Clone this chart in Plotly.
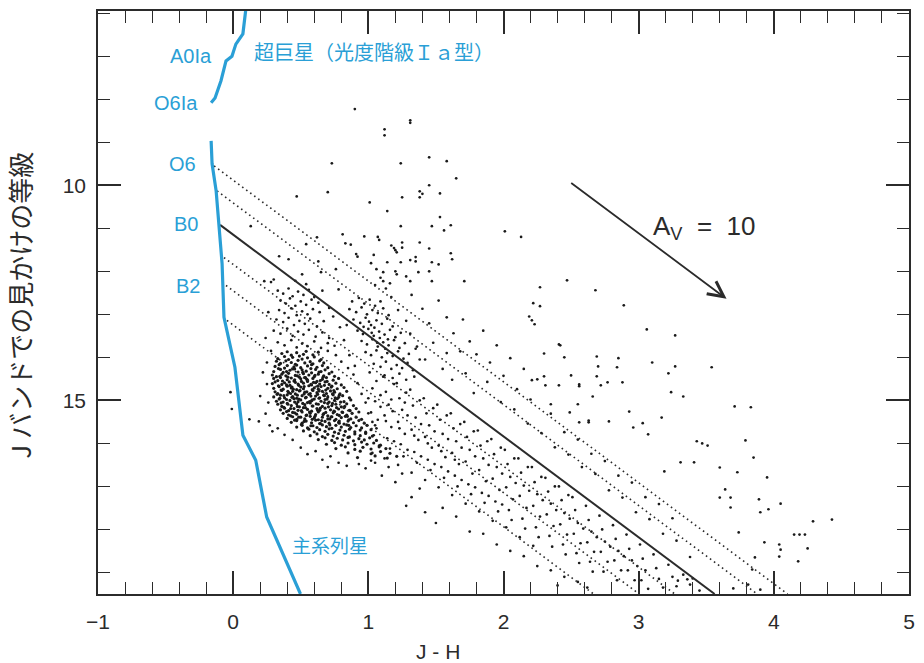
import plotly.graph_objects as go

# ---------------------------------------------------------------- tracks
# main-sequence track (J-H, J)
ms_jh = [-0.163, -0.156, -0.126, -0.104, -0.082, -0.068, -0.016, 0.013, 0.072, 0.167, 0.248, 0.498]
ms_j = [8.97, 9.50, 10.13, 10.98, 11.82, 13.07, 13.84, 14.23, 15.81, 16.39, 17.71, 19.50]

# supergiant (luminosity class Ia) track
sg_jh = [0.094, 0.072, 0.020, -0.009, -0.053, -0.090, -0.134, -0.163]
sg_j = [5.90, 6.48, 6.72, 7.00, 7.11, 7.57, 7.97, 8.08]

# spectral types marked along the tracks
sp_types = ["A0Ia", "O6Ia", "O6", "B0", "B2"]
sp_j = [6.99, 8.08, 9.50, 10.91, 12.33]

# reddening lines start on the main sequence
red_type = ["O6", "", "B0", "", "B2", ""]
red_start_jh = [-0.141, -0.119, -0.097, -0.068, -0.053, -0.046]
red_start_j = [9.55, 10.13, 10.92, 11.68, 12.33, 13.14]

# extinction vector for A_V = 10
av_value = 10
av_start = [2.49, 9.92]
av_delta = [1.16, 2.72]

# axis extents and tick spacing
JH_MIN, JH_MAX = -1, 5
J_BRIGHT, J_FAINT = 5.95, 19.5
jh_major, jh_minor = 1, 0.2
j_major, j_minor = 5, 1

# ---------------------------------------------------------------- stars (J-H, J)
main_clump = [
    (0.36, 13.91), (0.40, 13.87), (0.43, 13.95), (0.47, 13.89), (0.52, 13.93), (0.54, 13.86), (0.59, 13.94), (0.63, 13.88),
    (0.33, 14.03), (0.38, 13.98), (0.41, 14.05), (0.44, 14.00), (0.49, 13.97), (0.51, 14.04), (0.55, 14.01), (0.60, 13.99), (0.65, 14.05),
    (0.32, 14.09), (0.35, 14.14), (0.39, 14.08), (0.43, 14.12), (0.46, 14.16), (0.48, 14.07), (0.53, 14.13), (0.57, 14.10), (0.59, 14.15), (0.64, 14.08), (0.67, 14.13),
    (0.31, 14.21), (0.34, 14.17), (0.38, 14.25), (0.40, 14.19), (0.45, 14.22), (0.47, 14.18), (0.50, 14.24), (0.55, 14.20), (0.58, 14.17), (0.62, 14.23), (0.66, 14.19), (0.70, 14.24),
    (0.30, 14.33), (0.35, 14.28), (0.37, 14.35), (0.42, 14.30), (0.44, 14.27), (0.48, 14.34), (0.51, 14.29), (0.54, 14.32), (0.58, 14.36), (0.61, 14.28), (0.65, 14.33), (0.68, 14.29), (0.73, 14.34),
    (0.29, 14.41), (0.32, 14.45), (0.36, 14.39), (0.39, 14.43), (0.41, 14.37), (0.46, 14.42), (0.49, 14.46), (0.52, 14.38), (0.56, 14.41), (0.60, 14.45), (0.63, 14.39), (0.67, 14.43), (0.71, 14.38), (0.75, 14.44),
    (0.30, 14.49), (0.33, 14.54), (0.35, 14.47), (0.40, 14.52), (0.43, 14.48), (0.45, 14.55), (0.50, 14.50), (0.53, 14.47), (0.55, 14.53), (0.59, 14.49), (0.62, 14.56), (0.66, 14.51), (0.69, 14.47), (0.74, 14.53), (0.78, 14.49),
    (0.29, 14.61), (0.31, 14.57), (0.36, 14.63), (0.38, 14.59), (0.42, 14.65), (0.46, 14.58), (0.48, 14.62), (0.52, 14.60), (0.55, 14.56), (0.58, 14.64), (0.61, 14.59), (0.64, 14.62), (0.68, 14.57), (0.71, 14.63), (0.76, 14.60), (0.80, 14.64),
    (0.30, 14.72), (0.34, 14.68), (0.37, 14.74), (0.40, 14.67), (0.43, 14.71), (0.47, 14.75), (0.50, 14.69), (0.52, 14.73), (0.56, 14.66), (0.60, 14.71), (0.63, 14.74), (0.65, 14.68), (0.70, 14.72), (0.73, 14.67), (0.77, 14.73), (0.82, 14.70),
    (0.31, 14.80), (0.33, 14.84), (0.36, 14.77), (0.41, 14.82), (0.44, 14.79), (0.46, 14.85), (0.49, 14.78), (0.53, 14.81), (0.57, 14.84), (0.59, 14.77), (0.62, 14.82), (0.66, 14.79), (0.69, 14.84), (0.72, 14.78), (0.75, 14.81), (0.79, 14.85), (0.84, 14.79),
    (0.30, 14.92), (0.35, 14.88), (0.38, 14.94), (0.40, 14.87), (0.44, 14.91), (0.47, 14.95), (0.51, 14.89), (0.54, 14.93), (0.56, 14.86), (0.61, 14.90), (0.64, 14.94), (0.67, 14.88), (0.70, 14.92), (0.74, 14.87), (0.78, 14.93), (0.81, 14.89), (0.86, 14.94),
    (0.32, 15.02), (0.34, 14.97), (0.37, 15.04), (0.42, 15.00), (0.45, 14.96), (0.48, 15.03), (0.50, 14.99), (0.55, 15.05), (0.58, 15.01), (0.60, 14.97), (0.65, 15.02), (0.68, 14.98), (0.71, 15.04), (0.75, 15.00), (0.77, 14.96), (0.82, 15.03), (0.87, 14.99),
    (0.33, 15.09), (0.36, 15.14), (0.40, 15.07), (0.43, 15.12), (0.47, 15.08), (0.49, 15.15), (0.53, 15.10), (0.57, 15.06), (0.59, 15.13), (0.63, 15.09), (0.66, 15.14), (0.70, 15.07), (0.73, 15.12), (0.76, 15.09), (0.80, 15.15), (0.84, 15.08), (0.89, 15.12),
    (0.35, 15.22), (0.38, 15.18), (0.41, 15.24), (0.45, 15.19), (0.48, 15.23), (0.52, 15.17), (0.55, 15.21), (0.58, 15.25), (0.62, 15.19), (0.64, 15.23), (0.68, 15.18), (0.72, 15.22), (0.75, 15.26), (0.78, 15.20), (0.82, 15.17), (0.86, 15.23), (0.91, 15.19),
    (0.37, 15.30), (0.41, 15.34), (0.44, 15.28), (0.47, 15.32), (0.51, 15.27), (0.54, 15.35), (0.57, 15.30), (0.61, 15.33), (0.63, 15.27), (0.67, 15.31), (0.70, 15.36), (0.74, 15.29), (0.77, 15.33), (0.81, 15.28), (0.84, 15.34), (0.88, 15.30), (0.93, 15.27),
    (0.40, 15.42), (0.44, 15.38), (0.47, 15.44), (0.50, 15.39), (0.53, 15.43), (0.57, 15.37), (0.60, 15.41), (0.63, 15.45), (0.66, 15.39), (0.70, 15.43), (0.73, 15.38), (0.76, 15.44), (0.80, 15.40), (0.83, 15.37), (0.87, 15.43), (0.91, 15.39), (0.95, 15.44),
    (0.43, 15.51), (0.47, 15.47), (0.51, 15.53), (0.54, 15.48), (0.58, 15.52), (0.61, 15.46), (0.64, 15.54), (0.68, 15.49), (0.71, 15.53), (0.75, 15.47), (0.78, 15.51), (0.82, 15.55), (0.85, 15.48), (0.89, 15.52), (0.93, 15.47), (0.97, 15.53),
    (0.47, 15.62), (0.51, 15.58), (0.55, 15.64), (0.59, 15.59), (0.62, 15.63), (0.66, 15.57), (0.69, 15.61), (0.73, 15.65), (0.76, 15.58), (0.80, 15.62), (0.84, 15.57), (0.87, 15.63), (0.91, 15.59), (0.95, 15.64), (0.99, 15.58),
    (0.52, 15.71), (0.56, 15.67), (0.60, 15.73), (0.64, 15.68), (0.68, 15.72), (0.71, 15.66), (0.75, 15.74), (0.79, 15.69), (0.83, 15.72), (0.86, 15.67), (0.90, 15.73), (0.94, 15.69), (0.98, 15.74), (1.02, 15.68),
    (0.57, 15.82), (0.62, 15.78), (0.66, 15.84), (0.70, 15.79), (0.74, 15.83), (0.78, 15.77), (0.82, 15.81), (0.86, 15.85), (0.90, 15.78), (0.94, 15.82), (0.98, 15.77), (1.03, 15.83),
    (0.63, 15.91), (0.68, 15.87), (0.73, 15.93), (0.77, 15.88), (0.81, 15.92), (0.85, 15.86), (0.89, 15.94), (0.93, 15.89), (0.97, 15.92), (1.01, 15.87), (1.06, 15.93),
    (0.69, 16.02), (0.75, 15.98), (0.80, 16.04), (0.85, 15.99), (0.90, 16.03), (0.95, 15.97), (0.99, 16.02), (1.04, 15.99), (1.09, 16.04),
    (0.76, 16.12), (0.83, 16.08), (0.90, 16.14), (0.96, 16.09), (1.02, 16.13), (1.08, 16.08), (1.13, 16.12),
    (0.85, 16.22), (0.94, 16.18), (1.02, 16.24), (1.09, 16.19), (1.16, 16.23),
    (0.92, 16.33), (1.05, 16.29), (1.14, 16.34), (1.21, 16.30),
]

# the crowded heart of the clump
clump_core = [
    (0.335, 14.26), (0.395, 14.33), (0.455, 14.27), (0.515, 14.35), (0.575, 14.26), (0.635, 14.34),
    (0.345, 14.44), (0.405, 14.46), (0.475, 14.43), (0.535, 14.47), (0.605, 14.42), (0.665, 14.46),
    (0.365, 14.55), (0.415, 14.57), (0.455, 14.52), (0.505, 14.56), (0.545, 14.51), (0.595, 14.58), (0.645, 14.54), (0.695, 14.56),
    (0.335, 14.66), (0.395, 14.64), (0.435, 14.69), (0.485, 14.65), (0.525, 14.68), (0.575, 14.63), (0.625, 14.67), (0.675, 14.65), (0.725, 14.69),
    (0.355, 14.76), (0.405, 14.79), (0.445, 14.74), (0.495, 14.77), (0.545, 14.80), (0.585, 14.75), (0.635, 14.78), (0.685, 14.76), (0.745, 14.77),
    (0.325, 14.86), (0.375, 14.89), (0.425, 14.84), (0.475, 14.88), (0.525, 14.85), (0.575, 14.90), (0.625, 14.86), (0.675, 14.89), (0.735, 14.85), (0.785, 14.88),
    (0.345, 14.95), (0.395, 14.98), (0.435, 14.93), (0.485, 14.97), (0.535, 14.94), (0.585, 14.99), (0.635, 14.95), (0.695, 14.97), (0.755, 14.94),
    (0.355, 15.06), (0.405, 15.09), (0.455, 15.04), (0.515, 15.07), (0.565, 15.03), (0.615, 15.08), (0.675, 15.05), (0.735, 15.07), (0.795, 15.04),
    (0.375, 15.16), (0.425, 15.19), (0.475, 15.14), (0.535, 15.17), (0.585, 15.13), (0.645, 15.18), (0.705, 15.15), (0.765, 15.17), (0.825, 15.14),
    (0.395, 15.26), (0.455, 15.29), (0.505, 15.24), (0.565, 15.27), (0.625, 15.23), (0.685, 15.28), (0.745, 15.25), (0.805, 15.27), (0.865, 15.24),
    (0.425, 15.36), (0.485, 15.39), (0.545, 15.34), (0.605, 15.37), (0.665, 15.33), (0.725, 15.38), (0.785, 15.35), (0.845, 15.37),
    (0.455, 15.46), (0.525, 15.49), (0.585, 15.44), (0.655, 15.47), (0.715, 15.43), (0.785, 15.48), (0.855, 15.45),
    (0.505, 15.56), (0.575, 15.59), (0.645, 15.54), (0.715, 15.57), (0.785, 15.53), (0.855, 15.58),
]

clump_halo = [
    (0.22, 14.35), (0.25, 14.62), (0.20, 14.90), (0.26, 15.05), (0.24, 15.31), (0.27, 15.58), (0.12, 15.44), (0.19, 15.49),
    (-0.02, 14.81), (-0.01, 15.20), (0.28, 13.85), (0.25, 14.12), (0.29, 15.72), (0.33, 15.65), (0.38, 15.80), (0.44, 15.92),
    (0.50, 16.10), (0.55, 16.25), (0.61, 16.18), (0.66, 16.38), (0.72, 16.30), (0.78, 16.45), (0.70, 16.55), (0.84, 16.52),
    (0.93, 16.48), (0.98, 16.58), (1.05, 16.45), (0.92, 14.60), (0.95, 14.85), (0.98, 15.05), (1.00, 15.30), (0.89, 14.40),
    (0.85, 14.25), (0.80, 14.10), (0.76, 13.95), (0.70, 13.85), (1.03, 15.50), (1.06, 15.65),
]

upper_left = [
    (0.33, 12.45), (0.37, 12.52), (0.41, 12.40), (0.44, 12.58), (0.48, 12.47), (0.52, 12.55), (0.56, 12.43), (0.60, 12.60),
    (0.35, 12.68), (0.39, 12.75), (0.42, 12.63), (0.46, 12.80), (0.50, 12.70), (0.54, 12.78), (0.58, 12.66), (0.63, 12.73),
    (0.34, 12.90), (0.38, 12.97), (0.43, 12.86), (0.47, 13.02), (0.51, 12.93), (0.55, 13.00), (0.59, 12.88), (0.64, 12.95),
    (0.32, 13.12), (0.37, 13.18), (0.41, 13.08), (0.45, 13.25), (0.49, 13.15), (0.53, 13.22), (0.57, 13.10), (0.62, 13.28),
    (0.67, 13.16), (0.30, 13.38), (0.35, 13.45), (0.40, 13.33), (0.44, 13.50), (0.48, 13.40), (0.52, 13.47), (0.56, 13.36),
    (0.61, 13.52), (0.66, 13.42), (0.71, 13.55), (0.33, 13.65), (0.38, 13.72), (0.43, 13.60), (0.47, 13.77), (0.51, 13.68),
    (0.55, 13.74), (0.60, 13.63), (0.65, 13.78), (0.70, 13.67), (0.75, 13.73), (0.28, 12.25), (0.46, 12.22), (0.54, 12.30),
    (0.66, 12.45), (0.71, 12.85), (0.74, 13.05), (0.79, 13.30), (0.26, 12.95), (0.24, 13.55),
]

upper_clump = [
    (0.88, 12.70), (0.93, 12.62), (0.97, 12.75), (1.01, 12.66), (1.05, 12.80), (1.09, 12.70), (0.86, 12.88), (0.91, 12.95),
    (0.95, 12.84), (0.99, 13.00), (1.03, 12.90), (1.07, 12.97), (1.11, 12.86), (1.15, 13.02), (0.89, 13.12), (0.94, 13.20),
    (0.98, 13.08), (1.02, 13.25), (1.06, 13.14), (1.10, 13.22), (1.14, 13.10), (1.18, 13.28), (0.92, 13.38), (0.96, 13.46),
    (1.00, 13.34), (1.04, 13.50), (1.08, 13.40), (1.12, 13.47), (1.16, 13.36), (1.20, 13.53), (1.24, 13.43), (0.95, 13.62),
    (0.99, 13.70), (1.03, 13.58), (1.07, 13.75), (1.11, 13.65), (1.15, 13.72), (1.19, 13.60), (1.23, 13.78), (1.27, 13.67),
    (0.98, 13.88), (1.02, 13.95), (1.06, 13.84), (1.10, 14.00), (1.14, 13.90), (1.18, 13.97), (1.22, 13.86), (1.26, 14.03),
    (1.30, 13.92), (1.04, 14.15), (1.09, 14.22), (1.13, 14.10), (1.17, 14.27), (1.21, 14.18), (1.25, 14.25), (1.29, 14.13),
    (1.33, 14.30), (1.12, 14.42), (1.18, 14.48), (1.23, 14.38), (1.28, 14.52), (1.34, 14.45), (0.84, 13.25), (0.82, 13.60),
    (0.86, 13.95), (0.90, 14.20), (1.38, 14.05), (1.36, 13.75), (1.31, 13.45), (1.28, 13.15), (1.22, 12.90), (1.17, 12.60),
    (1.005, 13.17), (1.045, 13.31), (1.085, 13.55), (1.125, 13.80), (1.065, 13.66), (1.025, 13.43), (0.965, 13.29), (1.145, 13.58),
]

streak = [
    (0.81, 11.14), (0.97, 11.19), (1.07, 11.20), (1.08, 11.27), (0.83, 11.35), (0.87, 11.38), (1.17, 11.40), (1.19, 11.46),
    (1.20, 11.51), (1.21, 11.56), (1.25, 11.33), (1.25, 11.45), (1.38, 11.33), (1.45, 11.47), (1.61, 11.58), (1.62, 11.72),
    (0.91, 11.60), (0.92, 11.66), (1.02, 11.81), (1.14, 11.79), (1.20, 12.00), (1.21, 12.07), (1.24, 11.79), (1.31, 11.74),
    (1.35, 11.67), (1.35, 11.77), (1.47, 11.79), (1.52, 11.84), (1.45, 12.00), (1.11, 12.02), (1.11, 12.23), (1.28, 12.12),
    (1.31, 12.23), (1.37, 12.02), (1.47, 12.23), (1.71, 12.23), (2.27, 12.37), (0.65, 12.02), (0.51, 12.07), (0.41, 11.72),
    (0.34, 11.65), (0.30, 12.19), (0.23, 12.23), (0.54, 11.37), (0.62, 11.21), (0.63, 11.77), (0.76, 11.95), (0.78, 12.42),
    (1.04, 11.62), (1.06, 11.95), (1.09, 12.15), (1.05, 12.32), (1.13, 12.40), (1.16, 12.28),
]

sparse_top = [
    (0.90, 8.23), (1.31, 8.49), (1.31, 8.55), (1.12, 8.70), (1.12, 8.84), (0.73, 9.49), (1.24, 9.49), (1.45, 9.35),
    (1.58, 9.44), (1.65, 9.84), (1.45, 10.00), (1.38, 10.14), (1.40, 10.20), (1.38, 10.28), (1.53, 10.19), (1.25, 10.28),
    (0.70, 10.16), (0.47, 10.26), (1.01, 10.40), (1.14, 10.60), (1.53, 10.74), (1.24, 10.95), (1.47, 10.95), (1.61, 10.93),
    (1.56, 11.05), (2.01, 11.07), (2.13, 11.20), (0.13, 10.95),
]

band = [
    (1.01, 14.35), (1.03, 14.72), (1.05, 15.02), (1.02, 15.28), (1.07, 15.45), (1.04, 15.81), (1.09, 15.15), (1.06, 14.55),
    (1.08, 16.05), (1.03, 16.22), (1.00, 14.95), (1.09, 14.88), (1.05, 15.58), (1.02, 16.40),
    (1.11, 14.45), (1.13, 14.80), (1.15, 15.10), (1.12, 15.35), (1.17, 15.62), (1.14, 15.88), (1.19, 14.62), (1.16, 16.12),
    (1.18, 15.25), (1.12, 16.35), (1.19, 15.95), (1.13, 15.48), (1.17, 14.98), (1.15, 16.55),
    (1.21, 14.60), (1.23, 14.95), (1.25, 15.22), (1.22, 15.50), (1.27, 15.78), (1.24, 16.02), (1.29, 15.35), (1.26, 16.30),
    (1.28, 14.82), (1.22, 16.50), (1.29, 16.15), (1.23, 15.65), (1.27, 15.05), (1.25, 16.70),
    (1.31, 14.75), (1.33, 15.12), (1.35, 15.40), (1.32, 15.68), (1.37, 15.92), (1.34, 16.20), (1.39, 15.55), (1.36, 16.45),
    (1.38, 15.00), (1.32, 16.68), (1.39, 16.30), (1.34, 15.82),
    (1.41, 14.95), (1.43, 15.30), (1.45, 15.58), (1.42, 15.85), (1.47, 16.10), (1.44, 16.38), (1.49, 15.72), (1.46, 16.62),
    (1.48, 15.18), (1.42, 16.85), (1.49, 16.48), (1.44, 16.00),
    (1.51, 15.10), (1.53, 15.45), (1.55, 15.78), (1.52, 16.05), (1.57, 16.32), (1.54, 16.55), (1.59, 15.90), (1.56, 16.80),
    (1.58, 15.35), (1.52, 17.02), (1.59, 16.65), (1.54, 16.18),
    (1.61, 15.30), (1.63, 15.65), (1.65, 15.95), (1.62, 16.22), (1.67, 16.48), (1.64, 16.75), (1.69, 16.10), (1.66, 17.00),
    (1.68, 15.55), (1.62, 17.20), (1.69, 16.85), (1.64, 16.38),
    (1.71, 15.50), (1.73, 15.85), (1.75, 16.15), (1.72, 16.42), (1.77, 16.70), (1.74, 16.95), (1.79, 16.30), (1.76, 17.18),
    (1.78, 15.72), (1.72, 17.40), (1.79, 17.02),
    (1.81, 15.70), (1.83, 16.05), (1.85, 16.35), (1.82, 16.62), (1.87, 16.88), (1.84, 17.15), (1.89, 16.50), (1.86, 17.38),
    (1.88, 15.95), (1.82, 17.58), (1.89, 17.22),
    (1.91, 15.90), (1.93, 16.25), (1.95, 16.55), (1.92, 16.82), (1.97, 17.08), (1.94, 17.35), (1.99, 16.70), (1.96, 17.58),
    (1.98, 16.10), (1.92, 17.80), (1.99, 17.42),
    (2.01, 16.15), (2.03, 16.48), (2.05, 16.78), (2.02, 17.02), (2.07, 17.30), (2.04, 17.55), (2.09, 16.92), (2.06, 17.78),
    (2.08, 16.35), (2.02, 17.95),
    (2.11, 16.35), (2.13, 16.68), (2.15, 16.98), (2.12, 17.22), (2.17, 17.50), (2.14, 17.75), (2.19, 17.10), (2.16, 17.98),
    (2.18, 16.55), (2.12, 18.18),
    (2.21, 16.55), (2.23, 16.90), (2.25, 17.18), (2.22, 17.45), (2.27, 17.70), (2.24, 17.95), (2.29, 17.32), (2.26, 18.18),
    (2.28, 16.78), (2.22, 18.38),
    (2.31, 16.80), (2.33, 17.12), (2.35, 17.40), (2.32, 17.65), (2.37, 17.92), (2.34, 18.15), (2.39, 17.55), (2.36, 18.40),
    (2.38, 17.00),
    (2.41, 17.00), (2.43, 17.32), (2.45, 17.62), (2.42, 17.88), (2.47, 18.12), (2.44, 18.35), (2.49, 17.75), (2.46, 18.58),
    (2.48, 17.20),
    (2.51, 17.25), (2.53, 17.55), (2.55, 17.85), (2.52, 18.10), (2.57, 18.32), (2.54, 18.55), (2.59, 17.98), (2.56, 18.78),
    (2.61, 17.45), (2.63, 17.78), (2.65, 18.05), (2.62, 18.30), (2.67, 18.52), (2.64, 18.75), (2.69, 18.18), (2.66, 18.98),
    (2.71, 17.68), (2.73, 18.00), (2.75, 18.28), (2.72, 18.52), (2.77, 18.75), (2.74, 18.98), (2.79, 18.40),
    (2.81, 17.90), (2.83, 18.22), (2.85, 18.50), (2.82, 18.72), (2.87, 18.95), (2.84, 19.18), (2.89, 18.62),
    (2.91, 18.12), (2.93, 18.45), (2.95, 18.72), (2.92, 18.95), (2.97, 19.18), (2.99, 18.85),
    (3.01, 18.35), (3.03, 18.68), (3.05, 18.95), (3.02, 19.18), (3.07, 19.38),
    (3.11, 18.58), (3.13, 18.90), (3.15, 19.15), (3.18, 19.35),
    (3.22, 18.82), (3.25, 19.10), (3.28, 19.32), (3.33, 19.05), (3.38, 19.28), (3.45, 19.42),
    (1.20, 16.90), (1.32, 17.25), (1.42, 17.60), (1.38, 17.05), (1.55, 17.50), (1.50, 17.85), (1.65, 17.70), (1.75, 18.05),
    (1.85, 18.10), (1.95, 18.35), (2.05, 18.50), (2.15, 18.62), (2.25, 18.85), (2.35, 18.95), (2.45, 19.10), (2.55, 19.22),
    (2.62, 19.35), (2.40, 19.30), (1.10, 16.75), (1.28, 17.45),
]

above_band = [
    (1.32, 12.55), (1.40, 12.87), (1.45, 13.21), (1.52, 12.68), (1.58, 13.07), (1.63, 13.44), (1.48, 13.66), (1.70, 13.12),
    (1.75, 13.63), (1.80, 13.93), (1.68, 13.86), (1.85, 13.38), (1.90, 14.12), (1.95, 13.72), (2.00, 14.43), (2.05, 14.02),
    (2.10, 14.74), (2.15, 14.27), (2.20, 14.98), (2.25, 14.51), (1.55, 14.27), (1.62, 14.52), (1.72, 14.37), (1.78, 14.83),
    (1.88, 14.57), (1.98, 15.04), (2.08, 15.21), (2.18, 15.54), (2.28, 15.76), (2.38, 16.09), (2.48, 16.26), (2.58, 16.55),
    (2.68, 16.71), (2.78, 17.09), (2.88, 17.26), (2.98, 17.60), (3.08, 17.76), (3.18, 18.10), (3.28, 18.26), (3.38, 18.64),
    (2.35, 15.31), (2.45, 15.74), (2.55, 15.91), (2.65, 16.24), (2.75, 16.41), (2.85, 16.75), (2.95, 16.91), (3.05, 17.25),
    (3.15, 17.41), (3.25, 17.74), (1.42, 14.05), (1.35, 13.80), (1.58, 13.90),
]

outliers = [
    (2.47, 12.21), (2.68, 12.44), (2.89, 12.79), (2.22, 12.74), (2.27, 12.81), (2.19, 13.05), (2.21, 13.14), (2.23, 13.23),
    (3.06, 13.35), (3.27, 13.49), (2.41, 13.70), (2.42, 13.72), (2.30, 13.91), (2.45, 14.00), (2.69, 13.98), (2.85, 14.02),
    (2.70, 14.21), (2.84, 14.23), (3.10, 14.12), (3.27, 14.21), (3.54, 14.23), (3.22, 14.37), (2.30, 14.44), (2.50, 14.42),
    (2.69, 14.44), (2.56, 14.63), (2.56, 14.67), (2.41, 14.65), (2.31, 14.65), (2.72, 14.65), (2.77, 14.58), (2.88, 14.58),
    (2.21, 14.53), (3.24, 14.81), (3.33, 14.91), (2.66, 14.91), (2.55, 15.09), (2.35, 15.09), (2.49, 15.28), (2.93, 15.26),
    (3.17, 15.40), (3.71, 15.14), (3.83, 15.16), (2.78, 15.49), (2.63, 15.47), (2.63, 15.51), (3.03, 15.53), (2.56, 15.51),
    (2.96, 15.63), (3.07, 15.79), (3.43, 15.95), (3.47, 16.00), (3.51, 16.05), (3.79, 15.93), (3.85, 16.33), (3.19, 16.65),
    (3.31, 16.44), (3.41, 16.44), (3.60, 16.56), (3.73, 16.67), (3.95, 16.79), (3.64, 17.07), (3.68, 17.26), (3.68, 17.49),
    (3.89, 17.30), (3.90, 17.60), (3.96, 17.53), (4.05, 17.40), (4.29, 17.81), (4.15, 18.12), (4.19, 18.12), (4.23, 18.12),
    (4.25, 18.44), (3.93, 18.30), (4.04, 18.35), (4.05, 18.47), (4.04, 18.63), (4.18, 18.74), (3.74, 18.07), (3.60, 17.26),
    (3.86, 18.65), (3.84, 18.93), (3.70, 19.37), (3.81, 19.28), (3.90, 19.40), (3.40, 19.14), (3.29, 19.19), (3.36, 19.16),
    (4.43, 17.77),
]

# ---------------------------------------------------------------- figure
BLUE = "#2a9fd6"
INK = "#2b2b2b"
LATIN = "Liberation Sans, Arial, Helvetica, sans-serif"
CJK = "Noto Sans CJK JP, sans-serif"

fig = go.Figure()


def add_stars(groups, size):
    fig.add_trace(go.Scatter(
        x=[p[0] for g in groups for p in g], y=[p[1] for g in groups for p in g],
        mode="markers", marker=dict(size=size, color="#1a1a1a", line=dict(width=0)),
        hoverinfo="skip", showlegend=False,
    ))


add_stars([main_clump, clump_core], 3.2)
add_stars([clump_halo, upper_left, upper_clump, streak, sparse_top, band, above_band, outliers], 2.7)

# reddening lines, each carried along the A_V vector to the faint limit
slope = av_delta[0] / av_delta[1]
for t, x0, y0 in zip(red_type, red_start_jh, red_start_j):
    x1 = x0 + (J_FAINT - y0) * slope
    solid = (t == "B0")
    fig.add_trace(go.Scatter(
        x=[x0, x1], y=[y0, J_FAINT], mode="lines",
        line=dict(color=INK, width=2.0 if solid else 1.6,
                  dash="solid" if solid else "1.6px,3.4px"),
        hoverinfo="skip", showlegend=False,
    ))

fig.add_trace(go.Scatter(x=ms_jh, y=ms_j, mode="lines",
                         line=dict(color=BLUE, width=3.2), hoverinfo="skip", showlegend=False))
fig.add_trace(go.Scatter(x=sg_jh, y=sg_j, mode="lines",
                         line=dict(color=BLUE, width=3.2), hoverinfo="skip", showlegend=False))

# spectral type labels, right-aligned beside the tracks
label_x = [-0.145, -0.245, -0.262, -0.247, -0.232]
for name, lx, ly in zip(sp_types, label_x, sp_j):
    fig.add_annotation(x=lx, y=ly, text=name, showarrow=False, xanchor="right", yanchor="middle",
                       font=dict(family=LATIN, size=20, color=BLUE))

fig.add_annotation(x=0.138, y=6.88, text="超巨星（光度階級Ｉａ型）", showarrow=False,
                   xanchor="left", yanchor="middle", font=dict(family=CJK, size=20, color=BLUE))
fig.add_annotation(x=0.424, y=18.35, text="主系列星", showarrow=False,
                   xanchor="left", yanchor="middle", font=dict(family=CJK, size=19, color=BLUE))

# extinction arrow
fig.add_annotation(x=av_start[0] + av_delta[0], y=av_start[1] + av_delta[1],
                   ax=av_start[0], ay=av_start[1], xref="x", yref="y", axref="x", ayref="y",
                   text="", showarrow=True, arrowhead=5, arrowsize=1.7, arrowwidth=1.8,
                   arrowcolor=INK)
fig.add_annotation(x=3.09, y=10.98, text=f"A<sub>V</sub>\u00a0\u00a0=\u00a0\u00a0{av_value}",
                   showarrow=False, xanchor="left", yanchor="middle",
                   font=dict(family=LATIN, size=26, color=INK))

# axis titles
fig.add_annotation(xref="paper", yref="paper", x=(441 - 98) / 817, y=-0.099, text="J - H",
                   showarrow=False, xanchor="center", yanchor="middle",
                   font=dict(family=LATIN, size=21, color=INK))
fig.add_annotation(xref="paper", yref="paper", x=-0.097, y=0.495, text="J バンドでの見かけの等級",
                   textangle=-90, showarrow=False, xanchor="center", yanchor="middle",
                   font=dict(family=CJK, size=26, color=INK))

# framed axes with inward major and minor ticks on all four sides
frame = dict(
    ticks="inside", ticklen=23, tickwidth=1.5, tickcolor=INK,
    showline=True, linecolor=INK, linewidth=1.5, mirror="allticks",
    showgrid=False, zeroline=False,
    tickfont=dict(family=LATIN, size=21, color=INK),
)
fig.update_layout(
    width=924, height=663,
    margin=dict(l=98, r=9, t=10, b=69),
    paper_bgcolor="white", plot_bgcolor="white",
    showlegend=False,
    xaxis=dict(
        range=[JH_MIN, JH_MAX], tickmode="linear", tick0=0, dtick=jh_major, ticklabelstandoff=8,
        minor=dict(ticks="inside", tick0=0, dtick=jh_minor, ticklen=12, tickwidth=1.3,
                   tickcolor=INK, showgrid=False),
        **frame,
    ),
    yaxis=dict(
        range=[J_FAINT, J_BRIGHT], tickmode="linear", tick0=0, dtick=j_major, ticklabelstandoff=6,
        minor=dict(ticks="inside", tick0=0, dtick=j_minor, ticklen=12, tickwidth=1.3,
                   tickcolor=INK, showgrid=False),
        **frame,
    ),
)

fig.write_html("out.html")
